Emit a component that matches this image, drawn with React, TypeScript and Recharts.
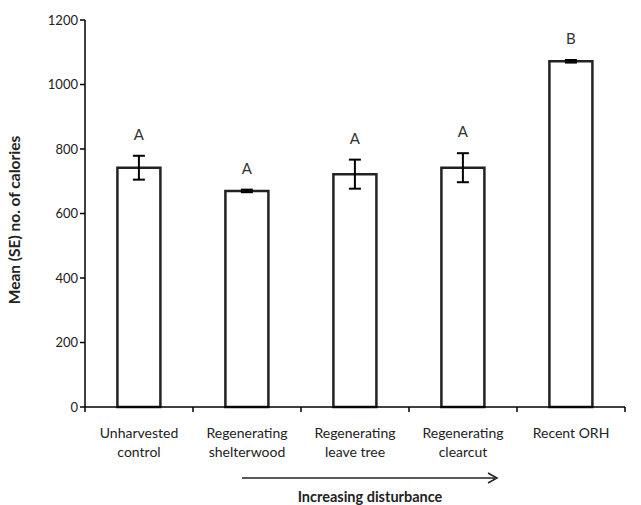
import React from 'react';
import { BarChart, Bar, XAxis, YAxis, ErrorBar, LabelList, Customized } from 'recharts';

const categoryNames = [
  'Unharvested control',
  'Regenerating shelterwood',
  'Regenerating leave tree',
  'Regenerating clearcut',
  'Recent ORH',
];
const labelLines = [
  ['Unharvested', 'control'],
  ['Regenerating', 'shelterwood'],
  ['Regenerating', 'leave tree'],
  ['Regenerating', 'clearcut'],
  ['Recent ORH'],
];
const means = [742, 670, 722, 742, 1072];
const errors = [37, 4, 45, 45, 4];
const letters = ['A', 'A', 'A', 'A', 'B'];
const yTicks = [0, 200, 400, 600, 800, 1000, 1200];

const data = categoryNames.map((name, i) => ({
  name,
  mean: means[i],
  se: errors[i],
  letter: letters[i],
}));

const FONT = 'Lato, "Open Sans", sans-serif';

const CategoryTick = (props: any) => {
  const { x, y, payload, index } = props;
  const half = payload && typeof payload.offset === 'number' && payload.offset > 0 ? payload.offset : 54;
  const i = typeof index === 'number' ? index : categoryNames.indexOf(payload.value);
  const lines = labelLines[i] || [];
  const last = i === categoryNames.length - 1;
  return (
    <g>
      <line x1={x - half} x2={x - half} y1={y} y2={y + 5} stroke="#000" strokeWidth={1.5} />
      {last && <line x1={x + half} x2={x + half} y1={y} y2={y + 5} stroke="#000" strokeWidth={1.5} />}
      <text x={x} y={y} textAnchor="middle" fontSize={14} fill="#222" fontFamily={FONT}>
        {lines.map((l, j) => (
          <tspan key={j} x={x} dy={j === 0 ? 31 : 19}>
            {l}
          </tspan>
        ))}
      </text>
    </g>
  );
};

const LetterLabel = (props: any) => {
  const { x, y, width, height, index, value } = props;
  const i = typeof index === 'number' ? index : 0;
  const pxPerUnit = height / means[i];
  const top = y - errors[i] * pxPerUnit;
  return (
    <text x={x + width / 2} y={top - 16} textAnchor="middle" fontSize={15} fill="#333" fontFamily={FONT}>
      {value}
    </text>
  );
};

const Annotations = () => {
  const x1 = 242;
  const x2 = 497;
  const xc = 370;
  return (
    <g>
      <line x1={x1} x2={x2 - 2} y1={478} y2={478} stroke="#222" strokeWidth={1.5} />
      <polyline points={`${x2 - 9},${473} ${x2},${478} ${x2 - 9},${483}`} fill="none" stroke="#222" strokeWidth={1.5} />
      <text x={xc} y={502} textAnchor="middle" fontSize={14.5} fontWeight="bold" fill="#222" fontFamily={FONT}>
        Increasing disturbance
      </text>
      <text
        x={0}
        y={0}
        transform="translate(20, 220) rotate(-90)"
        textAnchor="middle"
        fontSize={15.5}
        fontWeight="bold"
        fill="#222"
        fontFamily={FONT}
      >
        Mean (SE) no. of calories
      </text>
    </g>
  );
};

export default function App() {
  return (
    <div style={{ position: 'absolute', left: 0, top: 0, width: 641, height: 505, background: '#fff' }}>
      <BarChart
        width={641}
        height={505}
        data={data}
        margin={{ top: 20, right: 16, bottom: 68, left: 25 }}
        barCategoryGap="30%"
      >
        <XAxis
          dataKey="name"
          interval={0}
          height={30}
          axisLine={{ stroke: '#000', strokeWidth: 1.5 }}
          tickLine={false}
          tickSize={0}
          tickMargin={0}
          tick={<CategoryTick />}
        />
        <YAxis
          domain={[0, 1200]}
          ticks={yTicks}
          interval={0}
          width={60}
          axisLine={{ stroke: '#000', strokeWidth: 1.5 }}
          tickLine={{ stroke: '#000', strokeWidth: 1.5 }}
          tickSize={5}
          tick={{ fontSize: 13, fill: '#222', fontFamily: FONT }}
        />
        <Bar
          dataKey="mean"
          fill="#fff"
          stroke="#222"
          strokeWidth={2.5}
          isAnimationActive={false}
        >
          <ErrorBar dataKey="se" width={6} stroke="#000" strokeWidth={2} direction="y" />
          <LabelList dataKey="letter" content={<LetterLabel />} />
        </Bar>
        <Customized component={Annotations} />
      </BarChart>
    </div>
  );
}
